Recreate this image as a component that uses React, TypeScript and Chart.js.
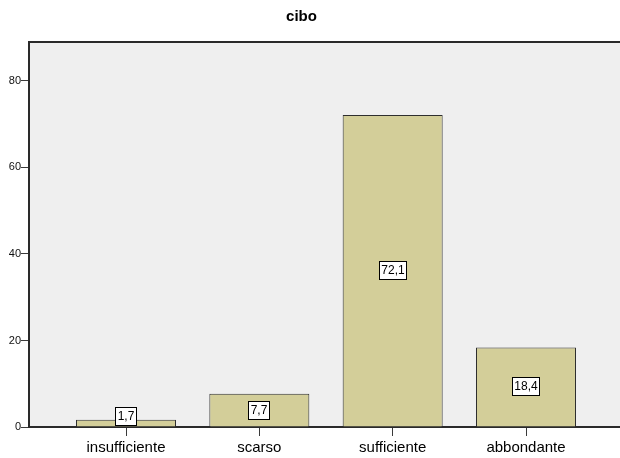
import { useEffect, useRef } from "react";
import { Chart, registerables } from "chart.js";

Chart.register(...registerables);

// Frequency distribution (%) for "cibo"
const categories = ["insufficiente", "scarso", "sufficiente", "abbondante"];
const percentages = [1.7, 7.7, 72.1, 18.4];
const yTickValues = [0, 20, 40, 60, 80];

const FONT = "'Liberation Sans', Arial, sans-serif";
const formatValue = (v: number) => v.toFixed(1).replace(".", ",");

// Grey plot background and the top frame line
const framePlugin = {
  id: "frame",
  beforeDraw(chart: any) {
    const { ctx, chartArea: a } = chart;
    ctx.save();
    ctx.fillStyle = "#efefef";
    ctx.fillRect(a.left, a.top, a.right - a.left, a.bottom - a.top);
    ctx.restore();
  },
  afterDatasetsDraw(chart: any) {
    const { ctx, chartArea: a } = chart;
    ctx.save();
    ctx.strokeStyle = "#2a2a2a";
    ctx.lineWidth = 2;
    ctx.beginPath();
    ctx.moveTo(a.left, a.top);
    ctx.lineTo(a.right, a.top);
    ctx.stroke();
    ctx.restore();
  },
};

// Title text above the plot
const titlePlugin = {
  id: "cornerTitle",
  afterDraw(chart: any) {
    const { ctx } = chart;
    ctx.save();
    ctx.font = `bold 15px ${FONT}`;
    ctx.fillStyle = "#000";
    ctx.textAlign = "center";
    ctx.textBaseline = "middle";
    ctx.fillText("cibo", 301.5, 17);
    ctx.restore();
  },
};

// Boxed value label in the middle of each bar
const valueLabelPlugin = {
  id: "valueLabels",
  afterDatasetsDraw(chart: any) {
    const { ctx } = chart;
    const meta = chart.getDatasetMeta(0);
    ctx.save();
    ctx.font = `12px ${FONT}`;
    ctx.textAlign = "center";
    ctx.textBaseline = "middle";
    meta.data.forEach((el: any, i: number) => {
      const text = formatValue(percentages[i]);
      const w = Math.round(ctx.measureText(text).width + 5);
      const h = 19;
      const mid = (el.y + el.base) / 2;
      const cy = Math.min(mid, el.base - h / 2 - 1);
      const left = Math.round(el.x - w / 2);
      const top = Math.round(cy - h / 2);
      ctx.fillStyle = "#ffffff";
      ctx.fillRect(left, top, w, h);
      ctx.strokeStyle = "#000";
      ctx.lineWidth = 1;
      ctx.strokeRect(left + 0.5, top + 0.5, w - 1, h - 1);
      ctx.fillStyle = "#000";
      ctx.fillText(text, left + w / 2, top + h / 2 + 0.5);
    });
    ctx.restore();
  },
};

export default function App() {
  const canvasRef = useRef<HTMLCanvasElement>(null);

  useEffect(() => {
    const canvas = canvasRef.current;
    if (!canvas) return;
    const chart = new Chart(canvas, {
      type: "bar",
      data: {
        datasets: [
          {
            data: percentages.map((v, i) => ({ x: i, y: v })),
            backgroundColor: "#d3ce99",
            borderColor: "#2e2e2e",
            borderWidth: 1,
            categoryPercentage: 0.75,
            barPercentage: 1,
          },
        ],
      },
      options: {
        animation: false,
        responsive: false,
        devicePixelRatio: 1,
        layout: { padding: { top: 42, right: 0, left: 0, bottom: 0 } },
        plugins: {
          legend: { display: false },
          tooltip: { enabled: false },
          title: { display: false },
        },
        scales: {
          x: {
            type: "linear",
            offset: false,
            min: -0.7275,
            max: 3.705,
            afterBuildTicks: (scale: any) => {
              scale.ticks = categories.map((_, i) => ({ value: i }));
            },
            afterFit: (scale: any) => {
              scale.height = 31;
            },
            ticks: {
              autoSkip: false,
              maxRotation: 0,
              padding: 3,
              color: "#000",
              font: { family: FONT, size: 15 },
              callback: (v: any) => categories[Number(v)] ?? "",
            },
            grid: {
              offset: false,
              drawOnChartArea: false,
              drawTicks: true,
              tickLength: 9,
              tickColor: "#3a3a3a",
              tickWidth: 1,
            },
            border: { display: true, color: "#2a2a2a", width: 2 },
          },
          y: {
            min: 0,
            max: 89,
            afterBuildTicks: (scale: any) => {
              scale.ticks = yTickValues.map((v) => ({ value: v }));
            },
            afterFit: (scale: any) => {
              scale.width = 29;
            },
            ticks: {
              padding: 0,
              color: "#111",
              font: { family: FONT, size: 11 },
            },
            grid: {
              drawOnChartArea: false,
              drawTicks: true,
              tickLength: 8,
              tickColor: "#3a3a3a",
              tickWidth: 1,
            },
            border: { display: true, color: "#2a2a2a", width: 2 },
          },
        },
      },
      plugins: [framePlugin, titlePlugin, valueLabelPlugin],
    });
    return () => chart.destroy();
  }, []);

  return (
    <div style={{ position: "fixed", left: 0, top: 0, width: 620, height: 458, background: "#fff" }}>
      <canvas ref={canvasRef} width={620} height={458} style={{ display: "block" }} />
    </div>
  );
}
